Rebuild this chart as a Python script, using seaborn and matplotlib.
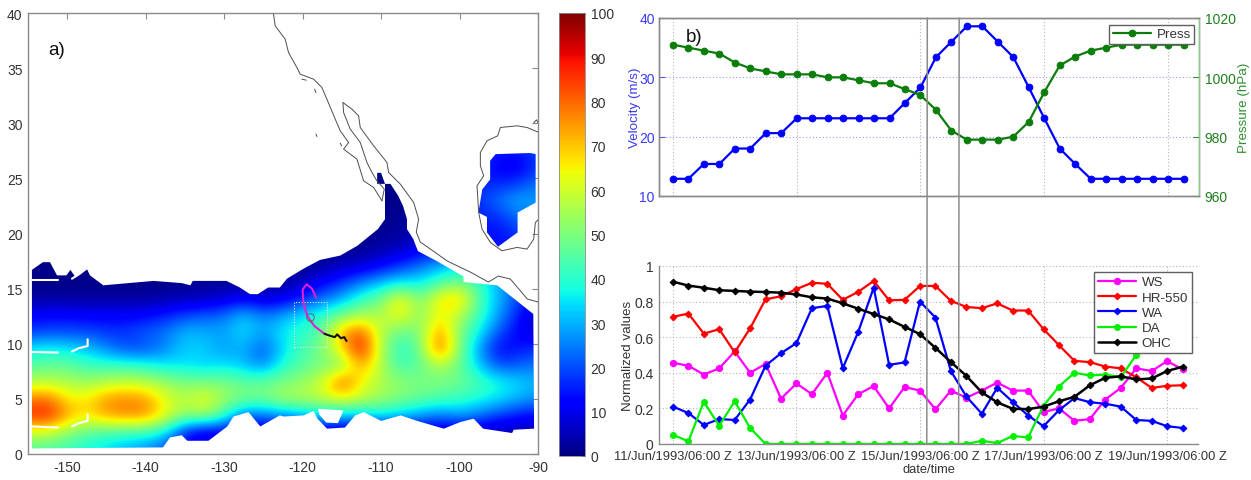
import numpy as np
import matplotlib
matplotlib.use("Agg")
import matplotlib.pyplot as plt
import seaborn as sns
from matplotlib.path import Path
from matplotlib.patches import PathPatch, ConnectionPatch, Rectangle

sns.set_theme(style="white")
plt.rcParams['font.family'] = ['Liberation Sans', 'DejaVu Sans']
plt.rcParams['axes.unicode_minus'] = False

# ---------- map data ----------
grid_lons = [-155, -152.5, -150, -147.5, -145, -142.5, -140, -137.5, -135, -132.5, -130, -127.5, -125,
             -122.5, -120, -117.5, -115, -112.5, -110, -107.5, -105, -102.5, -100, -97.5, -95, -92.5, -90]
grid_lats = [0.5, 2, 3.5, 5, 6.5, 8, 9.5, 11, 12.5, 14, 15.5, 17, 18.5, 20, 21.5, 23, 24.5, 26, 27.5]
r00 = [45,44,42,38,34,30,26,20,12,10,10,10,8,8,8,8,8,8,8,8,8,8,8,8,8,8,8]
r02 = [60,60,52,46,44,42,42,36,14,6,10,6,6,6,6,6,4,6,6,6,6,5,6,5,4,4,4]
r03 = [86,90,74,66,75,77,77,64,52,56,42,22,24,26,30,34,32,32,36,32,28,24,28,24,18,14,12]
r05 = [78,80,66,66,75,77,75,62,57,64,54,50,48,56,56,58,64,58,54,50,47,44,42,38,35,30,27]
r06 = [56,58,56,54,57,59,57,54,50,50,50,47,48,50,54,60,84,64,56,52,50,50,48,44,38,34,30]
r08 = [45,47,47,42,42,42,40,36,35,33,35,32,25,40,45,50,50,74,56,42,46,56,48,32,20,22,25]
r09 = [36,38,36,33,26,20,20,26,33,33,28,30,20,34,44,50,66,92,56,38,48,84,50,28,12,14,18]
r11 = [18,20,20,20,18,18,22,24,31,30,28,35,28,36,40,46,74,84,56,46,50,78,50,36,20,12,6]
r12 = [12,13,13,12,12,12,13,16,20,22,24,33,25,30,36,42,50,56,56,66,50,66,56,42,28,14,6]
r14 = [3,3,3,3,3,3,3,4,5,6,8,12,8,10,16,24,30,42,48,68,48,68,72,44,30,20,8]
r15 = [1,1,1,1,1,1,1,1,2,2,2,2,2,3,6,12,18,25,32,36,36,44,50,42,30,20,10]
r17 = [1,1,1,1,1,1,1,1,1,1,1,1,1,1,2,3,6,8,12,18,24,30,35,35,25,15,10]
r18 = [1,1,1,1,1,1,1,1,1,1,1,1,1,1,1,1,1,2,4,6,10,14,16,14,14,14,18]
r20 = [1,1,1,1,1,1,1,1,1,1,1,1,1,1,1,1,1,1,2,3,5,8,14,14,13,18,20]
r21 = [1,1,1,1,1,1,1,1,1,1,1,1,1,1,1,1,1,1,1,2,3,8,14,15,17,24,24]
r23 = [1,1,1,1,1,1,1,1,1,1,1,1,1,1,1,1,1,1,1,1,3,8,14,18,24,30,28]
r24 = [1,1,1,1,1,1,1,1,1,1,1,1,1,1,1,1,1,1,1,1,3,8,14,16,16,18,24]
r26 = [1,1,1,1,1,1,1,1,1,1,1,1,1,1,1,1,1,1,1,1,3,8,14,16,11,10,18]
r27 = [1,1,1,1,1,1,1,1,1,1,1,1,1,1,1,1,1,1,1,1,3,8,14,16,16,14,20]
field = [r00,r02,r03,r05,r06,r08,r09,r11,r12,r14,r15,r17,r18,r20,r21,r23,r24,r26,r27]

ocean_outline = [(-154.5,16.7),(-153.1,17.4),(-152.2,17.4),(-151.3,16.2),(-150.1,16.2),(-149.6,16.7),(-149,16.1),
    (-147.5,16.8),(-147.1,16.2),(-145.4,15.3),(-139,15.7),(-135.4,15.5),(-134.3,15.3),(-134,15.7),(-129.7,15.7),
    (-128,15.1),(-126.7,14.5),(-125.7,14.5),(-124.4,15.1),(-122.9,15.1),(-122,15.9),(-119.9,16.8),(-117.8,17.6),
    (-115.2,18),(-113,18.9),(-110.4,20.4),(-109.5,21.3),(-109.5,24.5),(-110.5,24.5),(-110.5,25.5),(-110,25.5),
    (-109.5,24.5),(-108.8,24.5),(-107.8,23.4),(-107.2,22.5),(-106.7,21.3),(-106.7,20.4),(-105.9,19.5),(-105.3,18.4),
    (-102.9,17.5),(-99.5,16.1),(-99.5,15.6),(-95.2,15.3),(-90.6,12.7),(-90.5,2.3),(-93.1,2.2),(-93.3,1.9),(-97,2.3),
    (-98.2,3.2),(-99.9,2.9),(-102,2.3),(-105.4,3),(-107.5,3.5),(-110,3),(-112.2,3.8),(-113.3,3.5),(-114.6,2.4),
    (-116.9,2.3),(-118.1,3.2),(-118.6,3.9),(-119.9,3.5),(-122.4,3.4),(-122.9,3.5),(-125.4,2.5),(-126.9,3.8),(-128.8,3.4),
    (-129.6,2.5),(-132,1.2),(-134.7,1.2),(-135.4,1.7),(-136.9,1.5),(-137.8,0.6),(-154.5,0.5)]
island_hole = [(-118,4.1),(-114.8,3.95),(-115.5,2.8),(-117,2.85),(-117.9,3.6)]
gulf_outline = [(-95.4,27.2),(-91,27.3),(-90.3,27.2),(-90.3,22.8),(-92.6,21.9),(-92.6,20.1),(-95.1,18.8),
    (-96.5,20.1),(-96.5,21.5),(-97.6,21.9),(-97.1,24),(-96.1,24.9),(-96.1,26.6)]
gap_lines = [
    ([-154.5,-151.2],[15.8,15.8]), ([-149.4,-148.5,-147.4],[15.9,16.3,16.9]),
    ([-154.5,-151.2],[9.25,9.2]), ([-149.4,-148.5,-147.4,-147.4],[9.3,9.6,9.8,10.4]),
    ([-154.5,-151.2],[2.5,2.4]), ([-149.4,-148.5,-147.4,-147.4],[2.5,2.8,3.0,3.6]),
]

def px_ll(pts):
    return ([-155 + (260 + x / 3 - 28) / 7.84 for x, y in pts], [(455 - y / 3) / 11.03 for x, y in pts])

baja_west = [(40,45),(45,80),(75,120),(85,160),(110,205),(120,225),(160,240),(185,265),(200,300),(225,360),(240,395),
             (265,430),(250,450),(290,480),(310,545),(340,565),(365,605)]
baja_gulf = [(365,605),(372,570),(350,545),(335,520),(320,490),(300,430),(270,390),(250,340),(248,310)]
mainland = [(248,310),(275,330),(295,350),(300,385),(340,440),(380,490),(385,520),(420,555),(460,610),(475,660),
            (468,699),(480,729),(519,756),(561,786),(630,819),(684,849),(714,831),(750,840),(801,900),(834,909)]
gulf_coast = [(836,400),(800,385),(770,380),(720,385),(712,410),(680,425),(660,460),(660,500),(670,530),(650,560),
              (655,640),(665,690),(690,730),(725,755),(770,745),(800,750),(820,720),(825,670),(836,660)]
islet_a = [(167,405),(170,412)]
islet_b = [(240,432),(244,440)]
islet_c = [(125,240),(138,243)]
islet_d = [(163,270),(167,280)]
islet_e = [(820,372),(828,362),(834,372)]
track_lon = [-118.3,-118.8,-119.5,-120.0,-119.9,-119.4,-118.5,-117.2]
track_lat = [14.2,15.0,15.4,14.9,13.7,12.5,11.6,10.9]
track_end_lon = [-117.2,-116.4,-115.9,-115.6,-115.1,-114.7,-114.4]
track_end_lat = [10.9,10.7,10.6,10.85,10.5,10.6,10.25]
storm_centre = (-119.0, 12.45)
box_lon = (-121.1, -116.9)
box_lat = (9.7, 13.8)

# ---------- time series data ----------
steps = list(range(34))
date_ticks = [0, 8, 16, 24, 32]
date_labels = ['11/Jun/1993/06:00 Z', '13/Jun/1993/06:00 Z', '15/Jun/1993/06:00 Z',
               '17/Jun/1993/06:00 Z', '19/Jun/1993/06:00 Z']
velocity = [12.9,12.9,15.4,15.4,18,18,20.6,20.6,23.1,23.1,23.1,23.1,23.1,23.1,23.1,25.7,28.3,33.4,36,38.6,38.6,36,
            33.4,28.3,23.1,18,15.4,12.9,12.9,12.9,12.9,12.9,12.9,12.9]
pressure = [1011,1010,1009,1008,1005,1003,1002,1001,1001,1001,1000,1000,999,998,998,996,994,989,982,979,979,979,980,
            985,995,1004,1007,1009,1010,1011,1011,1011,1011,1011]
ws = [.456,.44,.39,.425,.52,.40,.45,.255,.34,.28,.40,.16,.28,.325,.20,.32,.30,.195,.30,.26,.30,.345,.30,.30,.18,.20,
      .13,.14,.25,.315,.425,.41,.465,.42]
hr = [.714,.733,.62,.645,.515,.65,.813,.83,.87,.906,.90,.81,.855,.916,.807,.81,.888,.888,.804,.77,.763,.79,.75,.75,
      .645,.555,.467,.46,.435,.425,.375,.315,.327,.33]
wa = [.21,.174,.107,.14,.135,.25,.44,.51,.567,.763,.776,.426,.63,.878,.445,.458,.80,.71,.41,.267,.17,.316,.237,.16,
      .10,.19,.258,.235,.226,.21,.135,.13,.10,.09]
da = [.052,.015,.237,.103,.24,.09,0,0,0,0,0,0,0,0,0,0,0,0,0,0,.018,.005,.045,.037,.215,.323,.40,.385,.39,.375,.50,
      .65,.72,.75]
ohc = [.912,.89,.878,.864,.86,.856,.854,.85,.84,.824,.817,.79,.76,.73,.70,.658,.617,.54,.46,.383,.29,.234,.198,.196,
       .21,.24,.265,.33,.372,.38,.363,.368,.41,.434]
event_steps = [16.44, 18.5]
series_names = ['WS', 'HR-550', 'WA', 'DA', 'OHC']

# ---------- layout ----------
W, H = 1251, 481
fig = plt.figure(figsize=(W / 100, H / 100), dpi=100, facecolor='white')
def place(l, t, r, b):
    return [l / W, 1 - b / H, (r - l) / W, (b - t) / H]

TXT = '#333333'
SP = '#8a8a8a'
FS = 10.0
FD = 9.3
FL = 9.6

# ---------- panel a ----------
ax = fig.add_axes(place(28, 14, 538, 455))
lons = np.array(grid_lons); lats = np.array(grid_lats)
im = ax.imshow(np.array(field, float), origin='lower', cmap='jet', vmin=0, vmax=100, interpolation='bicubic',
               extent=(lons[0] - 1.25, lons[-1] + 1.25, lats[0] - .75, lats[-1] + .75), aspect='auto', zorder=1)
def ring(pts):
    return list(pts) + [pts[0]], [Path.MOVETO] + [Path.LINETO] * (len(pts) - 1) + [Path.CLOSEPOLY]
v1, c1 = ring(ocean_outline); v2, c2 = ring(island_hole[::-1]); v3, c3 = ring(gulf_outline)
clip = PathPatch(Path(v1 + v2 + v3, c1 + c2 + c3), transform=ax.transData, fc='none', ec='none')
ax.add_patch(clip)
im.set_clip_path(clip)
for gx, gy in gap_lines:
    ax.plot(gx, gy, color='white', lw=1.5, zorder=2, solid_capstyle='round')
for part in (baja_west, baja_gulf, mainland, gulf_coast, islet_a, islet_b, islet_c, islet_d, islet_e):
    cx, cy = px_ll(part)
    ax.plot(cx, cy, color='#4d4d4d', lw=0.7, zorder=3, solid_joinstyle='round')
ax.add_patch(Rectangle((box_lon[0], box_lat[0]), box_lon[1] - box_lon[0], box_lat[1] - box_lat[0], fill=False,
                       ec='#e6e6e6', lw=0.8, ls=(0, (1, 1.5)), zorder=4))
sns.lineplot(x=track_lon, y=track_lat, ax=ax, color='#e020d0', lw=1.5, sort=False, errorbar=None, zorder=5)
sns.lineplot(x=track_end_lon, y=track_end_lat, ax=ax, color='#111111', lw=1.5, sort=False, errorbar=None, zorder=5)
ax.plot(*storm_centre, marker='o', ms=5.5, mfc='none', mec='#666666', mew=0.7, zorder=6)
ax.set_xlim(-155, -90); ax.set_ylim(0, 40)
ax.set_xticks(range(-150, -89, 10)); ax.set_yticks(range(0, 41, 5))
ax.tick_params(direction='in', top=True, right=True, length=4, width=0.8, color=SP, labelsize=FS, labelcolor=TXT, pad=4)
for s in ax.spines.values():
    s.set_color(SP); s.set_linewidth(1.0)
ax.text(-152.4, 36.7, 'a)', fontsize=13.5, color='#111111', va='center')

# ---------- colorbar ----------
cax = fig.add_axes(place(559, 14, 585, 457))
cb = fig.colorbar(im, cax=cax, ticks=range(0, 101, 10))
cb.ax.tick_params(direction='in', length=3, width=0.7, color='#222222', labelsize=FS, labelcolor=TXT, pad=4)
cb.outline.set_edgecolor(SP); cb.outline.set_linewidth(0.6)

# ---------- panel b top ----------
top = fig.add_axes(place(659, 19, 1199, 197))
sns.lineplot(x=steps, y=velocity, ax=top, color='#0000ff', lw=1.6, marker='o', markersize=4.8, markeredgecolor='#0000ff',
             errorbar=None, legend=False)
top.set_xlim(-0.9, 34); top.set_ylim(10, 40)
top.set_xticks(date_ticks); top.set_xticklabels([])
top.set_yticks([10, 20, 30, 40])
top.set_ylabel('Velocity (m/s)', color='#3a3af0', fontsize=FL, labelpad=-1)
top.tick_params(axis='y', direction='in', length=4, width=0.8, color='#5555ff', labelcolor='#3a3af0', labelsize=FS, pad=3)
top.tick_params(axis='x', direction='in', length=4, width=0.8, color=SP)
top.grid(axis='y', color='#9a9af5', ls=(0, (1, 2)), lw=0.8)
top.grid(axis='x', color='#b5b5b5', ls=(0, (1, 2)), lw=0.8)
for s in top.spines.values():
    s.set_color(SP); s.set_linewidth(1.0)
top.text(0.85, 36.8, 'b)', fontsize=13.5, color='#111111', va='center')

twin = top.twinx()
sns.lineplot(x=steps, y=pressure, ax=twin, color='#0a7d0a', lw=1.6, marker='o', markersize=4.8, markeredgecolor='#0a7d0a',
             errorbar=None, label='Press')
twin.set_ylim(960, 1020); twin.set_yticks([960, 980, 1000, 1020])
twin.set_ylabel('Pressure (hPa)', color='#2f8f2f', fontsize=FL, labelpad=2)
twin.tick_params(axis='y', direction='in', length=4, width=0.8, color='#2f8f2f', labelcolor='#1f7f1f', labelsize=FS, pad=4)
for s in twin.spines.values():
    s.set_color(SP); s.set_linewidth(1.0)
twin.spines['right'].set_color('#8fc98f')
twin.grid(False)
lg = twin.legend(loc='upper right', bbox_to_anchor=(0.991, 0.962), borderaxespad=0, frameon=True, fancybox=False,
                 framealpha=1, edgecolor='#606060', fontsize=FL, handlelength=2.9, borderpad=0.25, handletextpad=0.4)
lg.get_frame().set_linewidth(1.0)
for t in lg.get_texts():
    t.set_color(TXT)

# ---------- panel b bottom ----------
bot = fig.add_axes(place(659, 267, 1198, 445))
styles = [(ws, '#ff00ff', 'o', 4.5, 1.6), (hr, '#ff0000', 'D', 3.4, 1.6), (wa, '#0000ff', 'D', 3.4, 1.6),
          (da, '#00f000', 'o', 4.2, 1.6), (ohc, '#000000', 'D', 3.4, 1.8)]
for (vals, col, mk, ms, lw), name in zip(styles, series_names):
    sns.lineplot(x=steps, y=vals, ax=bot, color=col, lw=lw, marker=mk, markersize=ms, markeredgecolor=col,
                 errorbar=None, label=name)
bot.set_xlim(-0.9, 34); bot.set_ylim(0, 1)
bot.set_xticks(date_ticks); bot.set_xticklabels(date_labels)
bot.set_yticks([0, .2, .4, .6, .8, 1]); bot.set_yticklabels(['0', '0.2', '0.4', '0.6', '0.8', '1'])
bot.set_xlabel('date/time', fontsize=FD, color=TXT, labelpad=1)
bot.set_ylabel('Normalized values', fontsize=FL, color=TXT, labelpad=0)
bot.tick_params(direction='in', length=4, width=0.8, color=SP, labelsize=FS, labelcolor=TXT, pad=4)
bot.tick_params(axis='x', labelsize=FD)
bot.grid(True, color='#b5b5b5', ls=(0, (1, 2)), lw=0.8)
bot.spines['top'].set_visible(False); bot.spines['right'].set_visible(False)
for k in ('left', 'bottom'):
    bot.spines[k].set_color(SP); bot.spines[k].set_linewidth(1.0)
lg2 = bot.legend(loc='upper right', bbox_to_anchor=(0.989, 0.966), borderaxespad=0, frameon=True, fancybox=False,
                 framealpha=1, edgecolor='#606060', fontsize=FL, handlelength=2.9, borderpad=0.3, handletextpad=0.4,
                 labelspacing=0.22)
lg2.get_frame().set_linewidth(1.0)
for t in lg2.get_texts():
    t.set_color(TXT)

for ev in event_steps:
    fig.add_artist(ConnectionPatch(xyA=(ev, 40), coordsA=top.transData, xyB=(ev, 0), coordsB=bot.transData,
                                   color='#8c8c8c', lw=1.1, zorder=10))

fig.savefig('out.png', dpi=100, facecolor='white')
